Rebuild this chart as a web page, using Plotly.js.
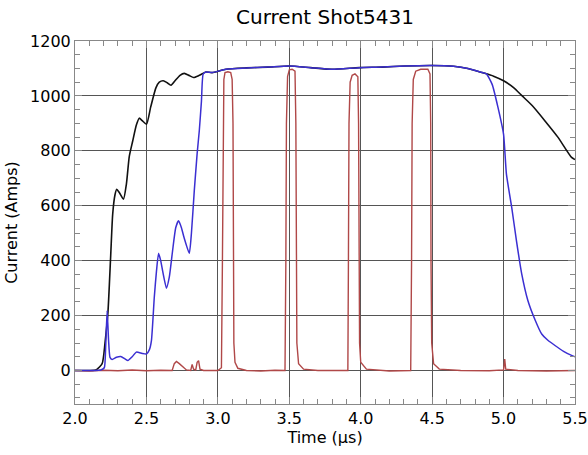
<!DOCTYPE html>
<html>
<head>
<meta charset="utf-8">
<script src="https://cdn.plot.ly/plotly-3.0.1.min.js"></script>
<style>html,body{margin:0;padding:0;background:#fff;}#chart{width:588px;height:455px;}</style>
</head>
<body>
<div id="chart"></div>
<script>
// Black trace (total current)
const blackT = [2.0, 2.1, 2.15, 2.19, 2.21, 2.23, 2.25, 2.264, 2.28, 2.292, 2.31, 2.339, 2.36, 2.38, 2.404, 2.43, 2.45, 2.47, 2.50, 2.53, 2.567, 2.59, 2.618, 2.645, 2.672, 2.70, 2.735, 2.765, 2.80, 2.83, 2.87, 2.916, 2.96, 3.056, 3.2, 3.35, 3.5, 3.65, 3.8, 3.99, 4.15, 4.31, 4.5, 4.65, 4.75, 4.85, 4.93, 5.0, 5.07, 5.13, 5.2, 5.29, 5.38, 5.476, 5.5];
const blackI = [0, 0, 3, 25, 100, 207, 420, 570, 640, 660, 648, 624, 680, 780, 836, 895, 919, 910, 897, 960, 1030, 1050, 1055, 1048, 1039, 1055, 1075, 1082, 1074, 1067, 1075, 1087, 1085, 1097, 1102, 1105, 1109, 1103, 1097, 1103, 1105, 1109, 1111, 1108, 1100, 1085, 1072, 1055, 1030, 1000, 965, 909, 850, 776, 768];

// Blue trace
const blueT = [2.0, 2.18, 2.205, 2.215, 2.225, 2.235, 2.245, 2.26, 2.29, 2.32, 2.35, 2.37, 2.40, 2.43, 2.47, 2.5, 2.52, 2.535, 2.555, 2.57, 2.585, 2.60, 2.613, 2.64, 2.66, 2.683, 2.705, 2.725, 2.745, 2.763, 2.8, 2.815, 2.835, 2.855, 2.87, 2.885, 2.897, 2.916, 2.96, 3.056, 3.2, 3.35, 3.5, 3.65, 3.8, 3.99, 4.15, 4.31, 4.5, 4.65, 4.75, 4.85, 4.88, 4.92, 4.96, 5.0, 5.02, 5.057, 5.09, 5.127, 5.17, 5.22, 5.267, 5.31, 5.36, 5.42, 5.476, 5.5];
const blueI = [0, 2, 10, 90, 218, 110, 48, 40, 48, 51, 42, 36, 50, 67, 62, 60, 75, 109, 267, 360, 427, 400, 364, 300, 340, 436, 520, 545, 520, 485, 427, 500, 655, 790, 873, 980, 1079, 1087, 1085, 1097, 1102, 1105, 1109, 1103, 1097, 1103, 1105, 1109, 1111, 1108, 1100, 1085, 1080, 1042, 960, 860, 715, 594, 473, 352, 255, 185, 133, 110, 91, 70, 55, 50];

// Red trace (pulses)
const redT = [2.0, 2.1, 2.2, 2.3, 2.4, 2.5, 2.6, 2.68, 2.695, 2.71, 2.73, 2.76, 2.78, 2.81, 2.82, 2.83, 2.845, 2.855, 2.865, 2.875, 2.9, 3.0, 3.025, 3.032, 3.036, 3.042, 3.05, 3.07, 3.09, 3.1, 3.106, 3.109, 3.112, 3.12, 3.14, 3.2, 3.3, 3.4, 3.47, 3.476, 3.48, 3.488, 3.5, 3.52, 3.54, 3.546, 3.549, 3.553, 3.565, 3.6, 3.7, 3.8, 3.91, 3.914, 3.918, 3.926, 3.94, 3.96, 3.98, 3.985, 3.987, 3.992, 4.0, 4.04, 4.2, 4.35, 4.356, 4.36, 4.368, 4.385, 4.42, 4.47, 4.485, 4.49, 4.492, 4.497, 4.51, 4.55, 4.7, 4.9, 5.0, 5.008, 5.015, 5.1, 5.3, 5.5];
const redI = [0, -2, 1, -1, 2, -1, 1, 0, 25, 33, 25, 10, 2, 0, 22, 5, 2, 30, 36, 5, 0, 0, 10, 400, 900, 1060, 1085, 1088, 1085, 1060, 900, 400, 100, 30, 8, 0, -2, 1, 0, 400, 900, 1070, 1095, 1097, 1090, 900, 400, 100, 25, 5, 0, -1, 0, 400, 900, 1050, 1075, 1080, 1070, 900, 400, 100, 30, 5, -2, 0, 400, 900, 1060, 1090, 1097, 1097, 1080, 900, 400, 100, 25, 5, 0, -1, 2, 42, 5, 0, -2, 0];

const xTickVals = [2.0, 2.5, 3.0, 3.5, 4.0, 4.5, 5.0, 5.5];
const xTickText = ['2.0', '2.5', '3.0', '3.5', '4.0', '4.5', '5.0', '5.5'];
const yTickVals = [0, 200, 400, 600, 800, 1000, 1200];

const F = 'DejaVu Sans, sans-serif';

const traces = [
  {x: blackT, y: blackI, type: 'scatter', mode: 'lines', line: {color: '#111111', width: 1.6, shape: 'spline', smoothing: 0.6}, showlegend: false},
  {x: redT, y: redI, type: 'scatter', mode: 'lines', line: {color: '#b04848', width: 1.4}, showlegend: false},
  {x: blueT, y: blueI, type: 'scatter', mode: 'lines', line: {color: '#3b2fd2', width: 1.5, shape: 'spline', smoothing: 0.5}, showlegend: false}
];

const axBase = {
  showline: true, linecolor: '#888', linewidth: 1, mirror: 'ticks',
  ticks: 'inside', ticklen: 7, tickcolor: '#888', tickwidth: 1,
  showgrid: true, gridcolor: '#555', gridwidth: 1, zeroline: false,
  tickfont: {family: F, size: 16, color: '#000'}
};

const layout = {
  width: 588, height: 455,
  margin: {l: 75, r: 13, t: 41, b: 51},
  paper_bgcolor: '#fff', plot_bgcolor: '#fff',
  title: {text: 'Current Shot5431', font: {family: F, size: 20, color: '#000'}, x: 0.5, xref: 'paper', xanchor: 'center', y: 1 - 17/455, yanchor: 'middle'},
  xaxis: Object.assign({}, axBase, {
    range: [2.0, 5.5], tickvals: xTickVals, ticktext: xTickText,
    minor: {dtick: 0.1, tick0: 2.0, ticks: 'inside', ticklen: 5, tickcolor: '#888', showgrid: false},
    title: {text: 'Time (μs)', font: {family: F, size: 16, color: '#000'}, standoff: 2}
  }),
  yaxis: Object.assign({}, axBase, {
    range: [-122, 1200], tickvals: yTickVals,
    minor: {dtick: 50, tick0: 0, ticks: 'inside', ticklen: 5, tickcolor: '#888', showgrid: false},
    title: {text: 'Current (Amps)', font: {family: F, size: 16, color: '#000'}, standoff: 8}
  })
};

Plotly.newPlot('chart', traces, layout, {displayModeBar: false, staticPlot: true});
</script>
</body>
</html>
